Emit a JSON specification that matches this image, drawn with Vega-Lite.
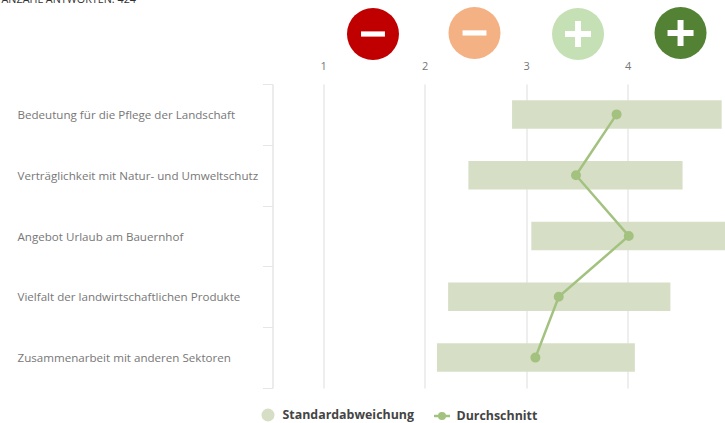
{
"$schema":"https://vega.github.io/schema/vega-lite/v6.json",
"width":452.5,"height":304,
"autosize":{"type":"none"},
"padding":{"left":272.5,"top":84,"right":0,"bottom":35},
"background":"white",
"config":{"view":{"stroke":null},"font":"Open Sans"},
"title":{"text":"ANZAHL ANTWORTEN: 424","anchor":"start","frame":"group","orient":"top","dx":-271,"offset":2,"fontSize":10.8,"fontWeight":"normal","color":"#333333","font":"Open Sans"},
"datasets":{
"rows":[
{"item":"Bedeutung für die Pflege der Landschaft","low":2.86,"high":4.925,"mean":3.89},
{"item":"Verträglichkeit mit Natur- und Umweltschutz","low":2.43,"high":4.54,"mean":3.49},
{"item":"Angebot Urlaub am Bauernhof","low":3.05,"high":5.0,"mean":4.01},
{"item":"Vielfalt der landwirtschaftlichen Produkte","low":2.23,"high":4.42,"mean":3.32},
{"item":"Zusammenarbeit mit anderen Sektoren","low":2.12,"high":4.07,"mean":3.09}
],
"icons":[
{"pos":1.49,"row":1,"col":"a","glyph":"minus"},
{"pos":2.49,"row":1.003,"col":"b","glyph":"minus"},
{"pos":3.51,"row":1,"col":"c","glyph":"plus"},
{"pos":4.52,"row":1.003,"col":"d","glyph":"plus"}
]},
"resolve":{"scale":{"y":"independent"}},
"layer":[
{"data":{"name":"rows"},"transform":[{"calculate":"'Standardabweichung'","as":"s"}],
"mark":{"type":"bar","clip":false,"height":28.5},
"encoding":{
"y":{"field":"item","type":"nominal","sort":null,"scale":{"paddingInner":0,"paddingOuter":0},
"axis":{"title":null,"labelFont":"Open Sans","labelFontSize":11.6,"labelColor":"#777777","labelAlign":"left","labelPadding":245.5,"labelLimit":300,"labelOffset":1,"domainColor":"#e6e6e6","domainWidth":1.5,"tickColor":"#e6e6e6","tickWidth":1,"tickSize":10,"tickBand":"extent","grid":false}},
"x":{"field":"low","type":"quantitative","scale":{"domain":[0.5,4.958],"nice":false,"zero":false},
"axis":{"orient":"top","title":null,"values":[1,2,3,4],"format":"d","labelFont":"Open Sans","labelFontSize":11,"labelColor":"#777777","domain":false,"ticks":false,"labelPadding":13,"grid":true,"gridColor":"#e8e8e8","gridWidth":1.5,"labelFlush":false}},
"x2":{"field":"high"},
"color":{"field":"s","type":"nominal","scale":{"domain":["Standardabweichung"],"range":["#d6dfc6"]},
"legend":{"title":null,"orient":"none","legendX":-12,"legendY":323.5,"symbolType":"circle","symbolSize":170,"symbolOpacity":1,"labelFont":"Open Sans","labelFontSize":12.4,"labelFontWeight":"bold","labelColor":"#444444","labelOffset":7,"labelLimit":200}}
}},
{"data":{"name":"rows"},"transform":[{"calculate":"'Durchschnitt'","as":"s"}],
"mark":{"type":"line","clip":false,"strokeWidth":2.5,"point":{"filled":true,"size":64,"color":"#a3c27f","opacity":1}},
"encoding":{
"y":{"field":"item","type":"nominal","sort":null,"axis":null,"scale":{"paddingInner":0,"paddingOuter":0}},
"x":{"field":"mean","type":"quantitative","scale":{"domain":[0.5,4.958],"nice":false,"zero":false}},
"stroke":{"field":"s","type":"nominal","scale":{"domain":["Durchschnitt"],"range":["#a3c27f"]},
"legend":{"title":null,"orient":"none","legendX":160,"legendY":322.5,"symbolType":"M-1,0H-0.35M0.35,0H1M-0.35,0A0.35,0.35 0 1 1 0.35,0A0.35,0.35 0 1 1 -0.35,0Z","symbolSize":256,"symbolStrokeWidth":2.5,"symbolFillColor":"#a3c27f","labelFont":"Open Sans","labelFontSize":12.4,"labelFontWeight":"bold","labelColor":"#444444","labelOffset":5,"labelLimit":200}}
}},
{"data":{"name":"icons"},
"mark":{"type":"point","filled":true,"size":2704,"opacity":1,"clip":false},
"encoding":{
"x":{"field":"pos","type":"quantitative","scale":{"domain":[0.5,4.958],"nice":false,"zero":false}},
"y":{"field":"row","type":"quantitative","axis":null,"scale":{"domain":[0,1],"range":[304,-50],"nice":false,"zero":false}},
"fill":{"field":"col","type":"nominal","legend":null,"scale":{"domain":["a","b","c","d"],"range":["#c00000","#f4b183","#c5e0b4","#548235"]}}
}},
{"data":{"name":"icons"},"transform":[{"filter":"datum.glyph==='minus'"}],
"mark":{"type":"point","filled":true,"size":2704,"opacity":1,"color":"white","clip":false,"shape":"M-0.46,-0.1H0.46V0.1H-0.46Z"},
"encoding":{
"x":{"field":"pos","type":"quantitative","scale":{"domain":[0.5,4.958],"nice":false,"zero":false}},
"y":{"field":"row","type":"quantitative","axis":null,"scale":{"domain":[0,1],"range":[304,-50],"nice":false,"zero":false}}
}},
{"data":{"name":"icons"},"transform":[{"filter":"datum.glyph==='plus'"}],
"mark":{"type":"point","filled":true,"size":2704,"opacity":1,"color":"white","clip":false,"shape":"M-0.5,-0.115H-0.115V-0.5H0.115V-0.115H0.5V0.115H0.115V0.5H-0.115V0.115H-0.5Z"},
"encoding":{
"x":{"field":"pos","type":"quantitative","scale":{"domain":[0.5,4.958],"nice":false,"zero":false}},
"y":{"field":"row","type":"quantitative","axis":null,"scale":{"domain":[0,1],"range":[304,-50],"nice":false,"zero":false}}
}}
]
}
